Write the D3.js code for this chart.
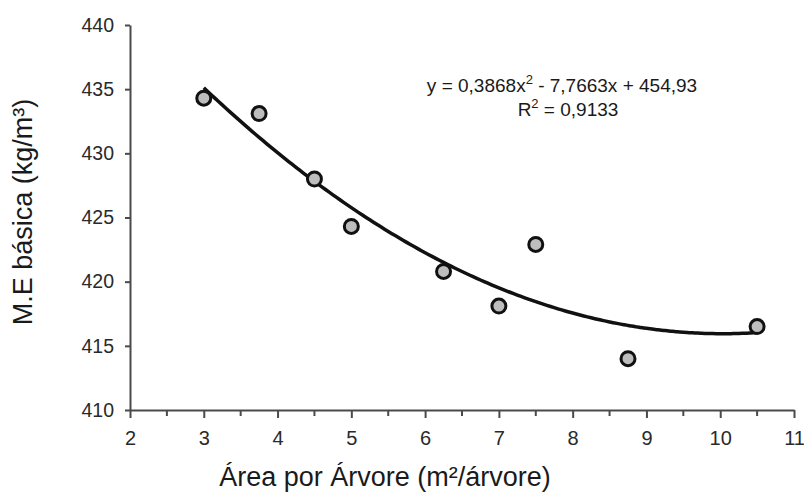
<!DOCTYPE html>
<html>
<head>
<meta charset="utf-8">
<script src="https://cdn.jsdelivr.net/npm/d3@7"></script>
<style>
  body { margin: 0; background: #fff; }
  text { font-family: "Liberation Sans", Arial, sans-serif; }
</style>
</head>
<body>
<div id="chart"></div>
<script>
// measured points: area per tree vs basic density
const areaPorArvore = [3, 3.75, 4.5, 5, 6.25, 7, 7.5, 8.75, 10.5];
const densidade = [434.3, 433.1, 428.0, 424.3, 420.8, 418.1, 422.9, 414.0, 416.5];

// quadratic trend coefficients [a, b, c] for y = a x^2 + b x + c
const trendCoef = [0.3868, -7.7663, 454.93];
const xTicks = [2, 3, 4, 5, 6, 7, 8, 9, 10, 11];
const yTicks = [410, 415, 420, 425, 430, 435, 440];

const width = 804, height = 495;
const margin = { top: 25, right: 10, bottom: 85, left: 130 };

const svg = d3.select('#chart')
  .append('svg')
  .attr('width', width)
  .attr('height', height);

const x = d3.scaleLinear().domain([2, 11]).range([margin.left, width - margin.right]);
const y = d3.scaleLinear().domain([410, 440]).range([height - margin.bottom, margin.top]);

const axisColor = '#4a4a4a';

// y axis
const gy = svg.append('g')
  .attr('transform', `translate(${margin.left},0)`)
  .call(d3.axisLeft(y).tickValues(yTicks).tickSize(5).tickPadding(11).tickSizeOuter(0));
gy.select('.domain').attr('stroke', axisColor).attr('stroke-width', 2);
gy.selectAll('.tick line').attr('stroke', axisColor).attr('stroke-width', 2);
gy.selectAll('.tick text')
  .attr('fill', '#2a2a2a')
  .style('font-size', '19.5px');

// x axis with minor ticks at the half units
const xMinor = d3.range(2.5, 11, 1);
svg.append('g')
  .attr('transform', `translate(0,${y(410)})`)
  .selectAll('line')
  .data(xMinor)
  .enter()
  .append('line')
  .attr('x1', (d) => x(d))
  .attr('x2', (d) => x(d))
  .attr('y1', 0)
  .attr('y2', 6)
  .attr('stroke', axisColor)
  .attr('stroke-width', 2);

const gx = svg.append('g')
  .attr('transform', `translate(0,${y(410)})`)
  .call(d3.axisBottom(x).tickValues(xTicks).tickSize(8).tickPadding(13).tickSizeOuter(0));
gx.select('.domain').attr('stroke', axisColor).attr('stroke-width', 2);
gx.selectAll('.tick line').attr('stroke', axisColor).attr('stroke-width', 2);
gx.selectAll('.tick text')
  .attr('fill', '#2a2a2a')
  .style('font-size', '20px');

// axis titles
svg.append('text')
  .attr('x', 385)
  .attr('y', 486)
  .attr('text-anchor', 'middle')
  .attr('fill', '#1a1a1a')
  .style('font-size', '27px')
  .text('Área por Árvore (m²/árvore)');

svg.append('text')
  .attr('transform', 'translate(32,212) rotate(-90)')
  .attr('text-anchor', 'middle')
  .attr('fill', '#1a1a1a')
  .style('font-size', '27px')
  .text('M.E básica (kg/m³)');

// trend curve over the range of the data
const [a, b, c] = trendCoef;
const xs = d3.range(d3.min(areaPorArvore), d3.max(areaPorArvore) + 0.001, 0.05);
const line = d3.line()
  .x((d) => x(d))
  .y((d) => y(a * d * d + b * d + c))
  .curve(d3.curveMonotoneX);

svg.append('path')
  .datum(xs)
  .attr('d', line)
  .attr('fill', 'none')
  .attr('stroke', '#111')
  .attr('stroke-width', 3.5);

// points
svg.append('g')
  .selectAll('circle')
  .data(areaPorArvore)
  .enter()
  .append('circle')
  .attr('cx', (d) => x(d))
  .attr('cy', (d, i) => y(densidade[i]))
  .attr('r', 7)
  .attr('fill', '#bdbdbd')
  .attr('stroke', '#111')
  .attr('stroke-width', 3);

// equation
const eq = svg.append('text')
  .attr('x', 562)
  .attr('y', 92)
  .attr('text-anchor', 'middle')
  .attr('fill', '#1a1a1a')
  .style('font-size', '19px');
eq.append('tspan').text('y = 0,3868x');
eq.append('tspan').attr('dy', -8).style('font-size', '13px').text('2');
eq.append('tspan').attr('dy', 8).text(' - 7,7663x + 454,93');

const r2 = svg.append('text')
  .attr('x', 568)
  .attr('y', 116)
  .attr('text-anchor', 'middle')
  .attr('fill', '#1a1a1a')
  .style('font-size', '19px');
r2.append('tspan').text('R');
r2.append('tspan').attr('dy', -8).style('font-size', '13px').text('2');
r2.append('tspan').attr('dy', 8).text(' = 0,9133');
</script>
</body>
</html>
